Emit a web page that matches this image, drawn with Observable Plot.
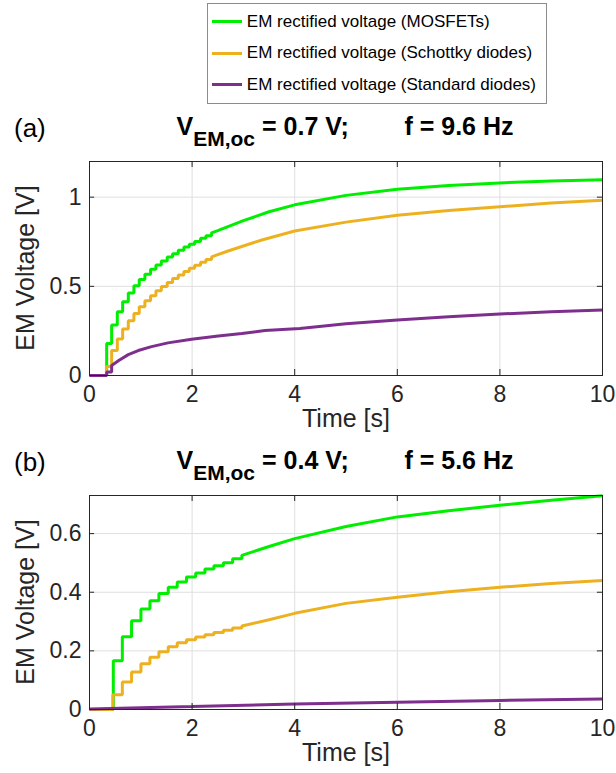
<!DOCTYPE html>
<html>
<head>
<meta charset="utf-8">
<script src="https://cdn.jsdelivr.net/npm/d3@7"></script>
<script src="https://cdn.jsdelivr.net/npm/@observablehq/plot@0.6"></script>
<style>
  body { margin: 0; background: #fff; }
  #wrap { position: relative; width: 616px; height: 773px; font-family: "Liberation Sans", Arial, Helvetica, sans-serif; color: #000; }
  .abs { position: absolute; white-space: nowrap; }
  .legend { position: absolute; right: 69px; top: 3px; border: 1px solid #8c8c8c; background: #fff; padding: 2px 10px 2px 4px; }
  .legend .row { display: flex; align-items: center; height: 31.5px; font-size: 17px; color: #000; }
  .legend .sw { width: 30px; height: 3px; margin-right: 5px; }
  .title { font-weight: bold; font-size: 25px; transform: translateX(-50%); }
  .title sub { font-size: 21px; vertical-align: -11px; line-height: 0; }
  .tag { font-size: 26px; }
  .ylab { font-size: 25px; color: #262626; transform: translate(-50%, -50%) rotate(-90deg); }
  .xlab { font-size: 25px; color: #262626; transform: translate(-50%, -50%); }
  svg { position: absolute; left: 0; }
</style>
</head>
<body>
<div id="wrap"></div>
<script>
// ---- data ----
const seriesNames = ["EM rectified voltage (MOSFETs)", "EM rectified voltage (Schottky diodes)", "EM rectified voltage (Standard diodes)"];
const seriesColors = ["#00ee00", "#edb120", "#7e2f8e"];

// Panel (a): V_EM,oc = 0.7 V, f = 9.6 Hz
// staircase part: step times and levels after each step; tail: smooth points
const aMosStepT = [0, 0.335, 0.432, 0.542, 0.646, 0.756, 0.866, 0.97, 1.08, 1.19, 1.295, 1.4, 1.515, 1.62, 1.73, 1.84, 1.945, 2.05, 2.165, 2.27, 2.38];
const aMosStepV = [0, 0.18, 0.283, 0.357, 0.413, 0.462, 0.503, 0.538, 0.568, 0.596, 0.62, 0.642, 0.665, 0.683, 0.702, 0.721, 0.736, 0.752, 0.769, 0.784, 0.8];
const aMosTailT = [2.5, 3, 3.5, 4, 5, 6, 7, 8, 9, 10];
const aMosTailV = [0.812, 0.868, 0.918, 0.957, 1.01, 1.045, 1.066, 1.08, 1.09, 1.097];

const aSchStepT = [0, 0.33, 0.432, 0.542, 0.646, 0.756, 0.866, 0.97, 1.08, 1.19, 1.295, 1.4, 1.515, 1.62, 1.73, 1.84, 1.945, 2.05, 2.165, 2.27, 2.38];
const aSchStepV = [0, 0.05, 0.14, 0.205, 0.261, 0.307, 0.348, 0.385, 0.419, 0.447, 0.475, 0.499, 0.521, 0.544, 0.564, 0.583, 0.601, 0.618, 0.635, 0.65, 0.665];
const aSchTailT = [2.7, 3.36, 4, 5, 6, 7, 8, 9, 10];
const aSchTailV = [0.698, 0.76, 0.81, 0.86, 0.898, 0.925, 0.946, 0.967, 0.983];

const aStdStepT = [0, 0.335, 0.432];
const aStdStepV = [0, 0.02, 0.056];
const aStdTailT = [0.57, 0.756, 0.95, 1.21, 1.53, 1.99, 2.51, 2.97, 3.42, 4.1, 5, 6, 7, 8, 9, 10];
const aStdTailV = [0.084, 0.117, 0.14, 0.162, 0.183, 0.203, 0.222, 0.236, 0.252, 0.264, 0.29, 0.311, 0.33, 0.345, 0.357, 0.367];

// Panel (b): V_EM,oc = 0.4 V, f = 5.6 Hz
const bMosStepT = [0, 0.464, 0.64, 0.82, 1.003, 1.178, 1.353, 1.535, 1.71, 1.89, 2.07, 2.25, 2.425, 2.61, 2.79, 2.97];
const bMosStepV = [0, 0.166, 0.248, 0.303, 0.343, 0.371, 0.396, 0.417, 0.435, 0.452, 0.466, 0.479, 0.49, 0.501, 0.514, 0.526];
const bMosTailT = [3.5, 4, 5, 6, 7, 8, 9, 10];
const bMosTailV = [0.556, 0.583, 0.624, 0.657, 0.678, 0.697, 0.714, 0.729];

const bSchStepT = [0, 0.455, 0.64, 0.82, 1.003, 1.178, 1.353, 1.535, 1.71, 1.89, 2.07, 2.25, 2.425, 2.61, 2.79, 2.97];
const bSchStepV = [0, 0.05, 0.094, 0.128, 0.156, 0.178, 0.197, 0.214, 0.228, 0.238, 0.247, 0.255, 0.263, 0.27, 0.278, 0.285];
const bSchTailT = [3.5, 4, 5, 6, 7, 8, 9, 10];
const bSchTailV = [0.306, 0.328, 0.362, 0.383, 0.402, 0.417, 0.43, 0.44];

const bStdStepT = [0];
const bStdStepV = [0.002];
const bStdTailT = [2, 4, 6, 8, 10];
const bStdTailV = [0.01, 0.019, 0.025, 0.031, 0.036];

const xTicks = [0, 2, 4, 6, 8, 10];
const aYTicks = [0, 0.5, 1];
const bYTicks = [0, 0.2, 0.4, 0.6];
const aTitle = { v: "0.7", f: "9.6" };
const bTitle = { v: "0.4", f: "5.6" };

// ---- build point lists (step corners + tail) ----
function build(name, stepT, stepV, tailT, tailV) {
  const pts = [];
  stepT.forEach((t, i) => {
    if (i > 0) pts.push({ s: name, t, v: stepV[i - 1] });
    pts.push({ s: name, t, v: stepV[i] });
  });
  tailT.forEach((t, i) => pts.push({ s: name, t, v: tailV[i] }));
  return pts;
}

const aData = [
  ...build(seriesNames[0], aMosStepT, aMosStepV, aMosTailT, aMosTailV),
  ...build(seriesNames[1], aSchStepT, aSchStepV, aSchTailT, aSchTailV),
  ...build(seriesNames[2], aStdStepT, aStdStepV, aStdTailT, aStdTailV)
];
const bData = [
  ...build(seriesNames[0], bMosStepT, bMosStepV, bMosTailT, bMosTailV),
  ...build(seriesNames[1], bSchStepT, bSchStepV, bSchTailT, bSchTailV),
  ...build(seriesNames[2], bStdStepT, bStdStepV, bStdTailT, bStdTailV)
];

const fmt = d => String(d);

function panel(data, yMax, yTicks) {
  const tickLenX = yMax * 0.028; // ~5px inward tick
  const tickLenY = 0.1;
  return Plot.plot({
    width: 616, height: 280,
    marginLeft: 89, marginRight: 14, marginTop: 11, marginBottom: 55,
    style: { fontFamily: '"Liberation Sans", Arial, Helvetica, sans-serif', color: "#262626", background: "transparent", overflow: "visible" },
    x: { domain: [0, 10], ticks: xTicks, label: null },
    y: { domain: [0, yMax], ticks: yTicks, label: null },
    color: { domain: seriesNames, range: seriesColors },
    marks: [
      Plot.ruleX(xTicks, { x: d => d, stroke: "#dfdfdf", strokeWidth: 1 }),
      Plot.ruleY(yTicks, { y: d => d, stroke: "#dfdfdf", strokeWidth: 1 }),
      Plot.line(data, { x: "t", y: "v", z: "s", stroke: "s", strokeWidth: 3, strokeLinejoin: "miter", strokeLinecap: "butt" }),
      Plot.frame({ stroke: "#262626", strokeWidth: 1 }),
      Plot.ruleX(xTicks, { x: d => d, y1: 0, y2: tickLenX, stroke: "#262626" }),
      Plot.ruleX(xTicks, { x: d => d, y1: yMax, y2: yMax - tickLenX, stroke: "#262626" }),
      Plot.ruleY(yTicks, { y: d => d, x1: 0, x2: tickLenY, stroke: "#262626" }),
      Plot.ruleY(yTicks, { y: d => d, x1: 10, x2: 10 - tickLenY, stroke: "#262626" }),
      Plot.axisX({ ticks: xTicks, tickFormat: fmt, tickSize: 0, tickPadding: 10, fontSize: 23, label: null }),
      Plot.axisY({ ticks: yTicks, tickFormat: fmt, tickSize: 0, tickPadding: 8, fontSize: 23, label: null })
    ]
  });
}

const wrap = document.getElementById("wrap");

// legend
const leg = document.createElement("div");
leg.className = "legend";
seriesNames.forEach((n, i) => {
  const r = document.createElement("div");
  r.className = "row";
  const sw = document.createElement("div");
  sw.className = "sw";
  sw.style.background = seriesColors[i];
  const tx = document.createElement("span");
  tx.textContent = n;
  r.appendChild(sw); r.appendChild(tx);
  leg.appendChild(r);
});
wrap.appendChild(leg);

function addText(cls, html, left, top) {
  const d = document.createElement("div");
  d.className = "abs " + cls;
  d.innerHTML = html;
  d.style.left = left + "px";
  d.style.top = top + "px";
  wrap.appendChild(d);
  return d;
}

function addPanel(tag, title, data, yMax, yTicks, svgTop) {
  const svg = panel(data, yMax, yTicks);
  svg.style.top = svgTop + "px";
  wrap.appendChild(svg);
  addText("tag", tag, 14, svgTop - 37);
  addText("title", `V<sub>EM,oc</sub>&nbsp;= ${title.v} V;&nbsp;&nbsp;&nbsp;&nbsp;&nbsp;&nbsp;&nbsp; f = ${title.f} Hz`, 345, svgTop - 38);
  addText("ylab", "EM Voltage [V]", 25, svgTop + 11 + 107);
  addText("xlab", "Time [s]", 346, svgTop + 268);
}

addPanel("(a)", aTitle, aData, 1.2, aYTicks, 150);
addPanel("(b)", bTitle, bData, 0.73, bYTicks, 484);
</script>
</body>
</html>
